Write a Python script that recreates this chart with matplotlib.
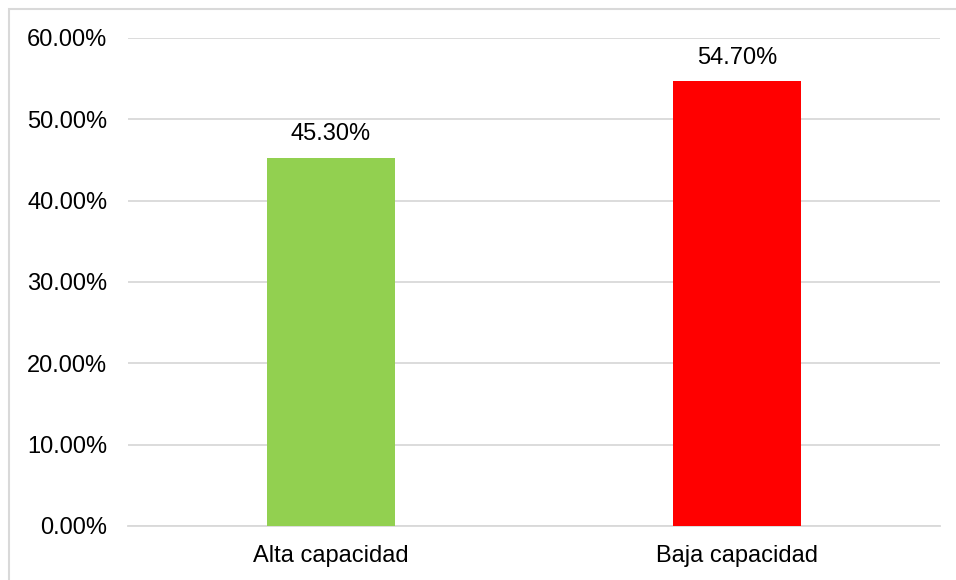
import matplotlib.pyplot as plt
from matplotlib.patches import Rectangle
from matplotlib.ticker import FuncFormatter

categories = ["Alta capacidad", "Baja capacidad"]
values = [45.30, 54.70]
colors = ["#92d050", "#ff0000"]
yticks = [0, 10, 20, 30, 40, 50, 60]

plt.rcParams['font.family'] = ['Liberation Sans', 'DejaVu Sans']

fig = plt.figure(figsize=(9.56, 5.8), dpi=100)
ax = fig.add_axes([128 / 956, 1 - 526 / 580, (940 - 128) / 956, (526 - 38) / 580])

# light outer frame like the Excel chart area
fig.patches.append(Rectangle((9 / 956, -0.1), 1.2, 1 - 9 / 580 + 0.1,
                             transform=fig.transFigure, fill=False,
                             edgecolor="#d9d9d9", linewidth=1.5))

x = range(len(categories))
bars = ax.bar(x, values, width=0.315, color=colors, zorder=3)

for b, v in zip(bars, values):
    ax.text(b.get_x() + b.get_width() / 2, v + 1.5, f"{v:.2f}%",
            ha="center", va="bottom", fontsize=17, color="#000000")

ax.set_xlim(-0.5, 1.5)
ax.set_ylim(0, 60)
ax.set_yticks(yticks)
ax.yaxis.set_major_formatter(FuncFormatter(lambda v, p: f"{v:.2f}%"))
ax.set_xticks(list(x))
ax.set_xticklabels(categories)
ax.grid(axis="y", color="#d9d9d9", linewidth=1.3, zorder=0)
for s in ["top", "right", "left"]:
    ax.spines[s].set_visible(False)
ax.spines["bottom"].set_color("#d9d9d9")
ax.spines["bottom"].set_linewidth(1.3)
ax.tick_params(axis="both", length=0, labelsize=17, colors="#000000")
ax.tick_params(axis="y", pad=15)
ax.tick_params(axis="x", pad=14)

fig.savefig("out.png", dpi=100)
